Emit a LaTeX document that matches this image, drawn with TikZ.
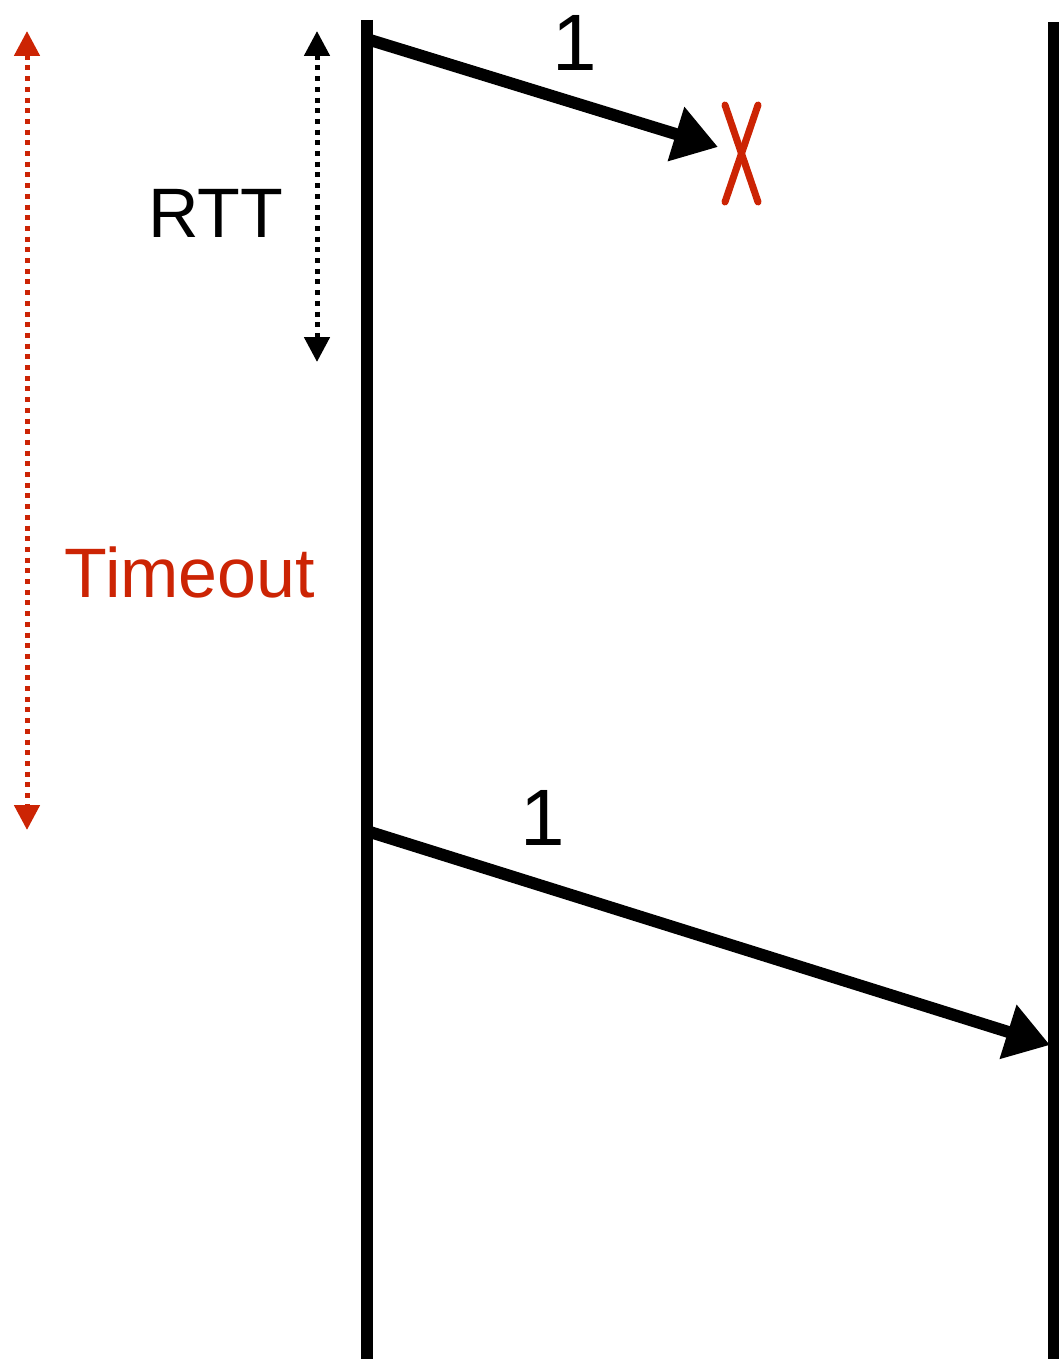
\documentclass[tikz,border=0pt]{standalone}
\usepackage{fontspec}
\setmainfont{Liberation Sans}
\usetikzlibrary{arrows.meta}
\definecolor{lossred}{RGB}{204,36,4}
\tikzset{
  timeline/.style={line width=12pt},
  msg/.style={line width=12pt, -{Triangle[length=44pt,width=54pt]}},
  span/.style={line width=5pt, dash pattern=on 5pt off 5.7pt, {Triangle[length=25pt,width=25pt]}-{Triangle[length=25pt,width=25pt]}},
  bigtext/.style={inner sep=0pt, anchor=base, font=\fontsize{70}{80}\selectfont},
  numtext/.style={inner sep=0pt, anchor=base, font=\fontsize{80}{90}\selectfont},
  cross/.style={lossred, line width=7pt, line cap=round},
}
\begin{document}
\begin{tikzpicture}[x=1pt,y=-1pt]
\useasboundingbox (0,0) rectangle (1059,1359);
% timelines
\coordinate (Ltop) at (367,20);
\coordinate (Lbot) at (367,1359);
\coordinate (Rtop) at (1054,22);
\coordinate (Rbot) at (1054,1359);
\draw[timeline] (Ltop) -- (Lbot);
\draw[timeline] (Rtop) -- (Rbot);
% message 1 (lost)
\coordinate (s1) at (370,40);
\coordinate (e1) at (718,147);
\draw[msg] (s1) -- (e1);
\node[numtext] (n1) at (575,71) {1};
% loss mark
\coordinate (xa) at (725,105);
\coordinate (xb) at (758,202);
\coordinate (xc) at (758,105);
\coordinate (xd) at (725,202);
\draw[cross] (xa) -- (xb);
\draw[cross] (xc) -- (xd);
% message 1 (retransmitted)
\coordinate (s2) at (370,832);
\coordinate (e2) at (1050,1045);
\draw[msg] (s2) -- (e2);
\node[numtext] (n2) at (543,845) {1};
% RTT span
\coordinate (rt) at (317,31);
\coordinate (rb) at (317,362);
\draw[span] (rt) -- (rb);
\node[bigtext] (rtt) at (216,237) {RTT};
% timeout span
\coordinate (tt) at (27,31);
\coordinate (tb) at (27,830);
\draw[span, lossred] (tt) -- (tb);
\node[bigtext, text=lossred] (to) at (190,597) {Timeout};
\end{tikzpicture}
\end{document}
